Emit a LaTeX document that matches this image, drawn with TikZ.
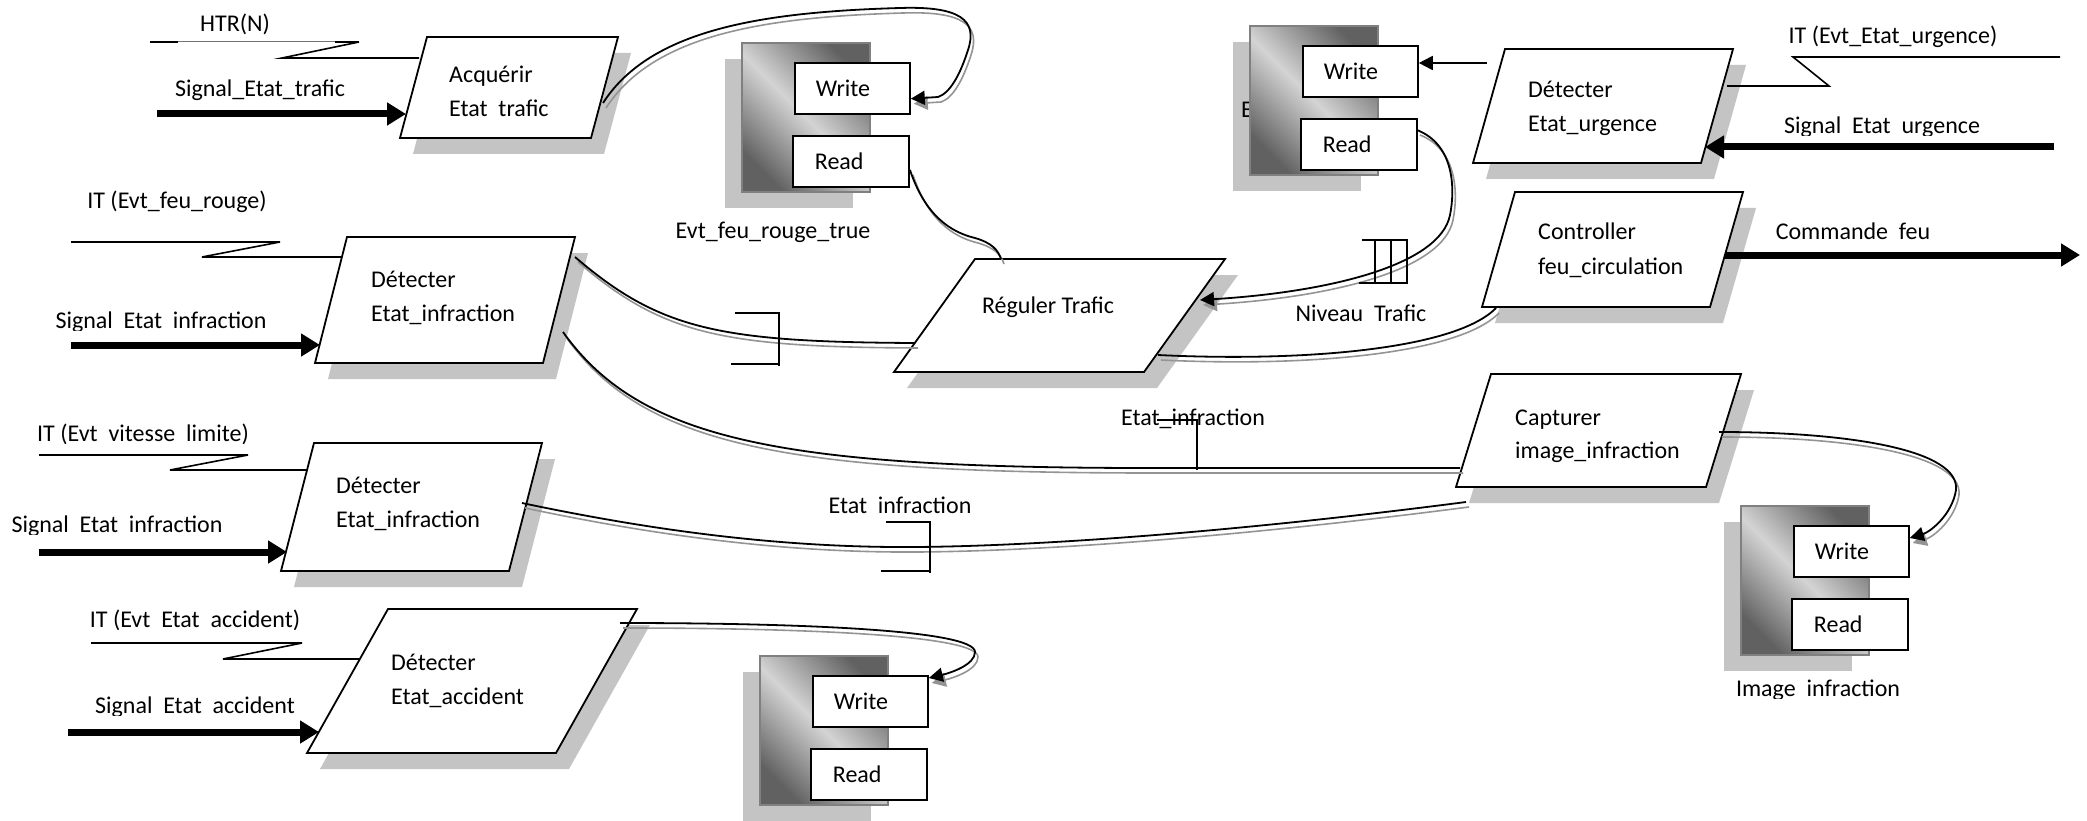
\documentclass[tikz,border=0pt]{standalone}
\usepackage{fontspec}
\setmainfont{Carlito}
\usetikzlibrary{arrows.meta}

% parallelogram shadow: bottom-left x,y ; top-left x,y ; width
\newcommand\procshadow[5]{%
  \fill[dropshade] ({#1+13},{#2+16}) -- ({#3+13},{#4+16}) -- ({#3+#5+13},{#4+16}) -- ({#1+#5+13},{#2+16}) -- cycle;}
% parallelogram: name ; bottom-left x,y ; top-left x,y ; width
\newcommand\procbox[6]{%
  \draw[procline] (#2,#3) coordinate (#1-bl) -- (#4,#5) coordinate (#1-tl)
    -- ({#4+#6},#5) coordinate (#1-tr) -- ({#2+#6},#3) coordinate (#1-br) -- cycle;}
% data store: top-left corner of the shaded case
\newcommand\storeshadow[2]{\fill[dropshade] ({#1-17},{#2+16}) rectangle ++(128,149);}
\newcommand\storebody[3]{%
  \draw[storecase] (#2,#3) rectangle ++(128,149);
  \node[port, anchor=north west] (#1-w) at ({#2+52},{#3+19}) {\makebox[115pt][l]{\hspace{21pt}Write}};
  \node[port, anchor=north west] (#1-r) at ({#2+50},{#3+92}) {\makebox[116pt][l]{\hspace{22pt}Read}};}
% flow drawn with its grey offset copy underneath
\newcommand\flowline[2][]{\draw[flowshadow,#1] #2; \draw[flow,#1] #2;}
% label whose descenders are cut off just under the baseline
\newcommand\cutlabel[5]{%
  \begin{scope}
    \clip ({#3-400},{#4-45}) rectangle ({#3+400},{#4+2});
    \node[anchor=#2] (#1) at (#3,#4) {#5};
  \end{scope}}
\newcommand\gap{\hspace{0.45em}}

\tikzset{
  every node/.style={font=\fontsize{24}{33}\selectfont, inner sep=0pt},
  dropshade/.style={fill=black!23},
  procline/.style={draw=black, line width=1.8pt, fill=white, line join=miter},
  storecase/.style={draw=black!50, line width=1.8pt, left color=black!62, right color=black!62, middle color=black!17, shading angle=135},
  port/.style={draw=black, line width=1.8pt, fill=white, minimum height=51pt},
  flow/.style={draw=black, line width=1.8pt},
  flowshadow/.style={draw=black!42, line width=1.6pt, transform canvas={shift={(3pt,-5pt)}}},
  flowtip/.style={-{Triangle[length=14pt,width=14pt]}},
  bigflow/.style={draw=black, line width=7pt, -{Triangle[length=19pt,width=22pt]}},
  itline/.style={draw=black, line width=1.6pt},
  markline/.style={draw=black, line width=1.6pt},
  lbl/.style={anchor=base},
  txt/.style={anchor=base west},
}

\begin{document}
\begin{tikzpicture}[x=1pt,y=-1pt]
\fill[white] (0,0) rectangle (2087,821);
\useasboundingbox (0,0) rectangle (2087,821);

% ---- drop shadows ----
\procshadow{400}{138}{427}{37}{191}
\procshadow{315}{363}{347}{237}{228}
\procshadow{281}{571}{314}{443}{228}
\procshadow{307}{753}{388}{609}{249}
\procshadow{894}{372}{975}{259}{250}
\procshadow{1473}{163}{1505}{49}{228}
\procshadow{1482}{307}{1515}{192}{228}
\procshadow{1456}{487}{1491}{374}{250}
\storeshadow{742}{43}
\storeshadow{1250}{26}
\storeshadow{1741}{506}
\storeshadow{760}{656}

\node[txt] (st2-name) at (1241,118) {E};

% ---- data stores ----
\storebody{st1}{742}{43}
\storebody{st2}{1250}{26}
\storebody{st3}{1741}{506}
\storebody{st4}{760}{656}
\node[lbl] (st1-name) at (773,238) {Evt\_feu\_rouge\_true};
\cutlabel{st3-name}{base}{1818}{696}{Image\gap infraction}

% ---- processes ----
\procbox{acq}{400}{138}{427}{37}{191}
\procbox{dinf1}{315}{363}{347}{237}{228}
\procbox{dinf2}{281}{571}{314}{443}{228}
\procbox{dacc}{307}{753}{388}{609}{249}
\procbox{reg}{894}{372}{975}{259}{250}
\procbox{durg}{1473}{163}{1505}{49}{228}
\procbox{ctrl}{1482}{307}{1515}{192}{228}
\procbox{capt}{1456}{487}{1491}{374}{250}

\node[txt] (acq-t1) at (449,83) {Acquérir};
\cutlabel{acq-t2}{base west}{449}{117}{Etat\gap trafic}
\node[txt] (dinf1-t1) at (371,287) {Détecter};
\node[txt] (dinf1-t2) at (371,321) {Etat\_infraction};
\node[txt] (dinf2-t1) at (336,493) {Détecter};
\node[txt] (dinf2-t2) at (336,527) {Etat\_infraction};
\node[txt] (dacc-t1) at (391,670) {Détecter};
\node[txt] (dacc-t2) at (391,704) {Etat\_accident};
\node[lbl] (reg-t) at (1048,313) {Réguler Trafic};
\node[txt] (durg-t1) at (1528,98) {Détecter};
\node[txt] (durg-t2) at (1528,132) {Etat\_urgence};
\node[txt] (ctrl-t1) at (1538,239) {Controller};
\node[txt] (ctrl-t2) at (1538,274) {feu\_circulation};
\node[txt] (capt-t1) at (1515,425) {Capturer};
\node[txt] (capt-t2) at (1515,458) {image\_infraction};

% ---- external inputs ----
\node[lbl] (htr-l) at (235,32) {HTR(N)};
\coordinate (htr-a) at (150,42); \coordinate (htr-b) at (359,42);
\coordinate (htr-c) at (282,58); \coordinate (htr-d) at (419,58);
\draw[draw=black!55, line width=1pt] (htr-a) -- (htr-b);
\draw[itline] (htr-a) -- ++(28,0);
\draw[itline] (htr-b) -- ++(-24,0);
\draw[itline] (htr-b) -- (htr-c) -- (htr-d);
\node[lbl] (sigtr-l) at (260,97) {Signal\_Etat\_trafic};
\coordinate (sigtr-s) at (157,114); \coordinate (acq-in) at (406,114);
\draw[bigflow] (sigtr-s) -- (acq-in);

\node[lbl] (itfr-l) at (177,208) {IT (Evt\_feu\_rouge)};
\coordinate (itfr-a) at (71,242); \coordinate (itfr-b) at (280,242);
\coordinate (itfr-c) at (202,257); \coordinate (itfr-d) at (342,257);
\draw[itline] (itfr-a) -- (itfr-b) -- (itfr-c) -- (itfr-d);
\cutlabel{sigi1-l}{base}{161}{328}{Signal\gap Etat\gap infraction}
\coordinate (sigi1-s) at (71,345); \coordinate (dinf1-in) at (320,345);
\draw[bigflow] (sigi1-s) -- (dinf1-in);

\cutlabel{itvl-l}{base}{143}{441}{IT (Evt\gap vitesse\gap limite)}
\coordinate (itvl-a) at (39,455); \coordinate (itvl-b) at (248,455);
\coordinate (itvl-c) at (170,470); \coordinate (itvl-d) at (307,470);
\draw[itline] (itvl-a) -- (itvl-b) -- (itvl-c) -- (itvl-d);
\cutlabel{sigi2-l}{base}{117}{532}{Signal\gap Etat\gap infraction}
\coordinate (sigi2-s) at (39,552); \coordinate (dinf2-in) at (287,552);
\draw[bigflow] (sigi2-s) -- (dinf2-in);

\cutlabel{itac-l}{base}{195}{627}{IT (Evt\gap Etat\gap accident)}
\coordinate (itac-a) at (91,643); \coordinate (itac-b) at (302,643);
\coordinate (itac-c) at (223,659); \coordinate (itac-d) at (360,659);
\draw[itline] (itac-a) -- (itac-b) -- (itac-c) -- (itac-d);
\cutlabel{sigac-l}{base}{195}{713}{Signal\gap Etat\gap accident}
\coordinate (sigac-s) at (68,732); \coordinate (dacc-in) at (319,732);
\draw[bigflow] (sigac-s) -- (dacc-in);

\node[lbl] (itur-l) at (1893,44) {IT (Evt\_Etat\_urgence)};
\coordinate (itur-a) at (2060,57); \coordinate (itur-b) at (1793,57);
\coordinate (itur-c) at (1829,86); \coordinate (itur-d) at (1727,86);
\draw[itline] (itur-a) -- (itur-b) -- (itur-c) -- (itur-d);
\cutlabel{sigur-l}{base}{1882}{134}{Signal\gap Etat\gap urgence}
\coordinate (sigur-s) at (2054,147); \coordinate (durg-in) at (1705,147);
\draw[bigflow] (sigur-s) -- (durg-in);

\cutlabel{cmd-l}{base}{1853}{239}{Commande\gap feu}
\coordinate (ctrl-out) at (1725,255); \coordinate (cmd-e) at (2080,255);
\draw[bigflow] (ctrl-out) -- (cmd-e);

% ---- flow labels ----
\cutlabel{niv-l}{base}{1361}{321}{Niveau\gap Trafic}
\node[lbl] (ei2-l) at (1193,425) {Etat\_infraction};
\cutlabel{ei3-l}{base}{900}{513}{Etat\gap infraction}

% ---- internal flows ----
\coordinate (acq-out) at (603,103);
\flowline[flowtip]{(acq-out) .. controls (650,30) and (760,12) .. (900,8)
  .. controls (960,6) and (978,20) .. (968,50)
  .. controls (960,75) and (950,93) .. (938,97) -- (st1-w.-10)}

\coordinate (dinf1-o1) at (575,257); \coordinate (reg-i1) at (915,343);
\flowline{(dinf1-o1) .. controls (660,330) and (720,342) .. (reg-i1)}

\coordinate (dinf1-o2) at (563,332); \coordinate (capt-i1) at (1460,468);
\flowline{(dinf1-o2) .. controls (640,440) and (780,468) .. (1150,468) -- (capt-i1)}

\coordinate (dinf2-o) at (522,503); \coordinate (capt-i2) at (1466,502);
\flowline{(dinf2-o) .. controls (650,530) and (780,548) .. (915,547)
  .. controls (1050,546) and (1250,530) .. (capt-i2)}

\coordinate (st1-o) at (910,170); \coordinate (reg-i2) at (1001,259);
\flowline{(st1-o) .. controls (925,215) and (950,232) .. (975,238)
  .. controls (992,243) and (998,250) .. (reg-i2)}

\coordinate (st2-o) at (1417,130); \coordinate (reg-i3) at (1200,300);
\flowline[flowtip]{(st2-o) .. controls (1455,145) and (1455,190) .. (1450,215)
  .. controls (1440,265) and (1330,292) .. (reg-i3)}

\coordinate (reg-o) at (1158,355); \coordinate (ctrl-i) at (1496,308);
\flowline{(reg-o) .. controls (1300,362) and (1455,350) .. (ctrl-i)}

\coordinate (durg-o) at (1487,63);
\draw[flow, flowtip] (durg-o) -- (st2-w.east |- durg-o);

\coordinate (capt-o) at (1719,432);
\flowline[flowtip]{(capt-o) .. controls (1850,432) and (1960,450) .. (1956,490)
  .. controls (1952,515) and (1930,532) .. (st3-w.east |- 0,538)}

\coordinate (dacc-o) at (620,623);
\flowline[flowtip]{(dacc-o) .. controls (800,623) and (975,630) .. (975,652)
  .. controls (975,665) and (950,673) .. (st4-w.east |- 0,678)}

% ---- flow markers ----
\draw[markline] (735,313) -- (779,313) -- (779,366);
\draw[markline] (731,364) -- (779,364);
\draw[markline] (1157,420) -- (1197,420) -- (1197,470);
\draw[markline] (1149,468) -- (1197,468);
\draw[markline] (886,522) -- (930,522) -- (930,573);
\draw[markline] (881,571) -- (930,571);
\draw[markline] (1362,240) -- (1408,240);
\draw[markline] (1359,283) -- (1408,283);
\foreach \vx in {1375,1391,1407} \draw[markline] (\vx,240) -- (\vx,283);
\end{tikzpicture}
\end{document}
